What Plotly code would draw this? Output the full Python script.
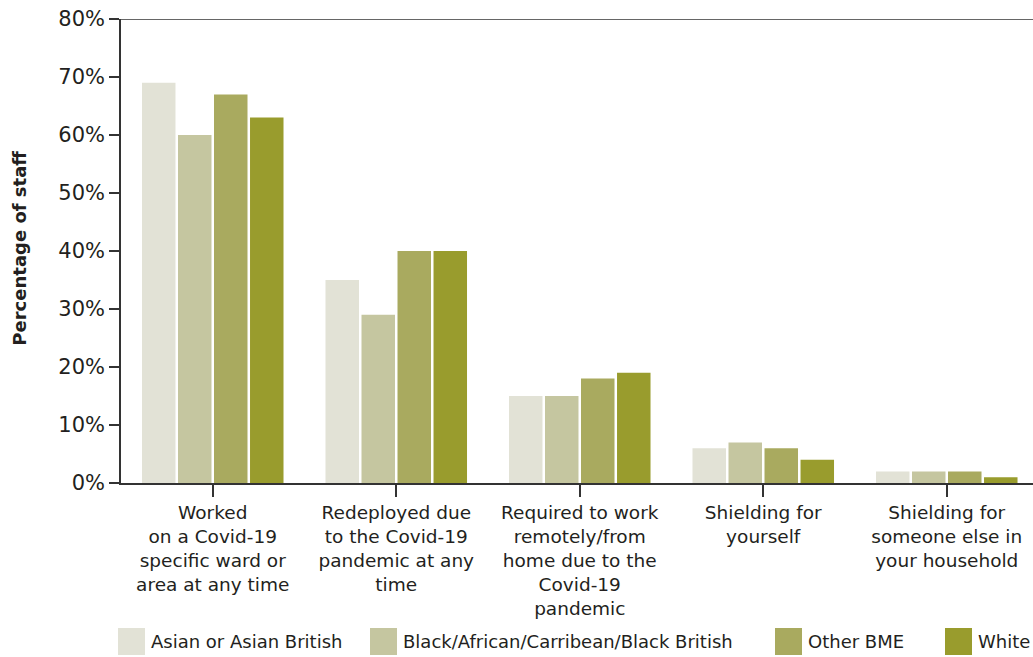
import plotly.graph_objects as go

categories = [
    "Worked<br>on a Covid-19<br>specific ward or<br>area at any time",
    "Redeployed due<br>to the Covid-19<br>pandemic at any<br>time",
    "Required to work<br>remotely/from<br>home due to the<br>Covid-19<br>pandemic",
    "Shielding for<br>yourself",
    "Shielding for<br>someone else in<br>your household",
]
series_names = [
    "Asian or Asian British",
    "Black/African/Carribean/Black British",
    "Other BME",
    "White",
]
asian = [69, 35, 15, 6, 2]
black = [60, 29, 15, 7, 2]
other_bme = [67, 40, 18, 6, 2]
white = [63, 40, 19, 4, 1]
series_values = [asian, black, other_bme, white]
y_ticks = [0, 10, 20, 30, 40, 50, 60, 70, 80]

colors = ["#e2e2d6", "#c5c6a0", "#a9aa5f", "#999c2d"]
FONT = "DejaVu Sans"
INK = "#231f20"

fig = go.Figure()
for name, vals, col in zip(series_names, series_values, colors):
    fig.add_trace(go.Bar(
        x=list(range(len(categories))), y=vals, name=name,
        marker=dict(color=col, line=dict(width=0)),
        showlegend=False,
    ))

W, H = 1033, 657
ml, mr, mt, mb = 121, 0, 19, 174
pw = W - ml - mr
ph = H - mt - mb

fig.update_layout(
    width=W, height=H,
    margin=dict(l=ml, r=mr, t=mt, b=mb),
    paper_bgcolor="white", plot_bgcolor="white",
    barmode="group", bargap=0.215, bargroupgap=0.07,
    font=dict(family=FONT, color=INK, size=18),
    xaxis=dict(
        tickmode="array", tickvals=list(range(len(categories))),
        ticktext=categories, range=[-0.5, 4.47],
        tickson="boundaries", ticks="outside", ticklen=12, tickwidth=2,
        tickcolor="#333", showline=True, linecolor="#333", linewidth=2,
        showgrid=False, zeroline=False,
        tickfont=dict(size=18.5, color=INK),
    ),
    yaxis=dict(
        range=[0, 80], tickvals=y_ticks,
        ticktext=[f"{v}%" for v in y_ticks],
        ticks="outside", ticklen=10, tickwidth=1.5, tickcolor="#333",
        showline=True, linecolor="#333", linewidth=1.5,
        showgrid=False, zeroline=False,
        tickfont=dict(size=21, color=INK),
    ),
)

# top border line at 80%
fig.add_shape(type="line", xref="paper", yref="y", x0=0, x1=1, y0=80, y1=80,
              line=dict(color="#333", width=1.5))

# y-axis title
fig.add_annotation(
    text="<b>Percentage of staff</b>", textangle=-90,
    xref="paper", yref="paper", x=(20 - ml) / pw, y=0.505,
    xanchor="center", yanchor="middle", showarrow=False,
    font=dict(size=18, color=INK),
)

# legend: swatches and labels along the bottom
legend_x = [118, 370, 775, 945]
for name, col, lx in zip(series_names, colors, legend_x):
    fig.add_shape(type="rect", xref="paper", yref="paper",
                  x0=(lx - ml) / pw, x1=(lx + 27 - ml) / pw,
                  y0=-(628 - (H - mb)) / ph,
                  y1=-(655 - (H - mb)) / ph,
                  fillcolor=col, line=dict(width=0))
    fig.add_annotation(text=name, xref="paper", yref="paper",
                       x=(lx + 31 - ml) / pw,
                       y=-(641 - (H - mb)) / ph,
                       xanchor="left", yanchor="middle", showarrow=False,
                       font=dict(size=18, color=INK))

fig.write_html("out.html")
